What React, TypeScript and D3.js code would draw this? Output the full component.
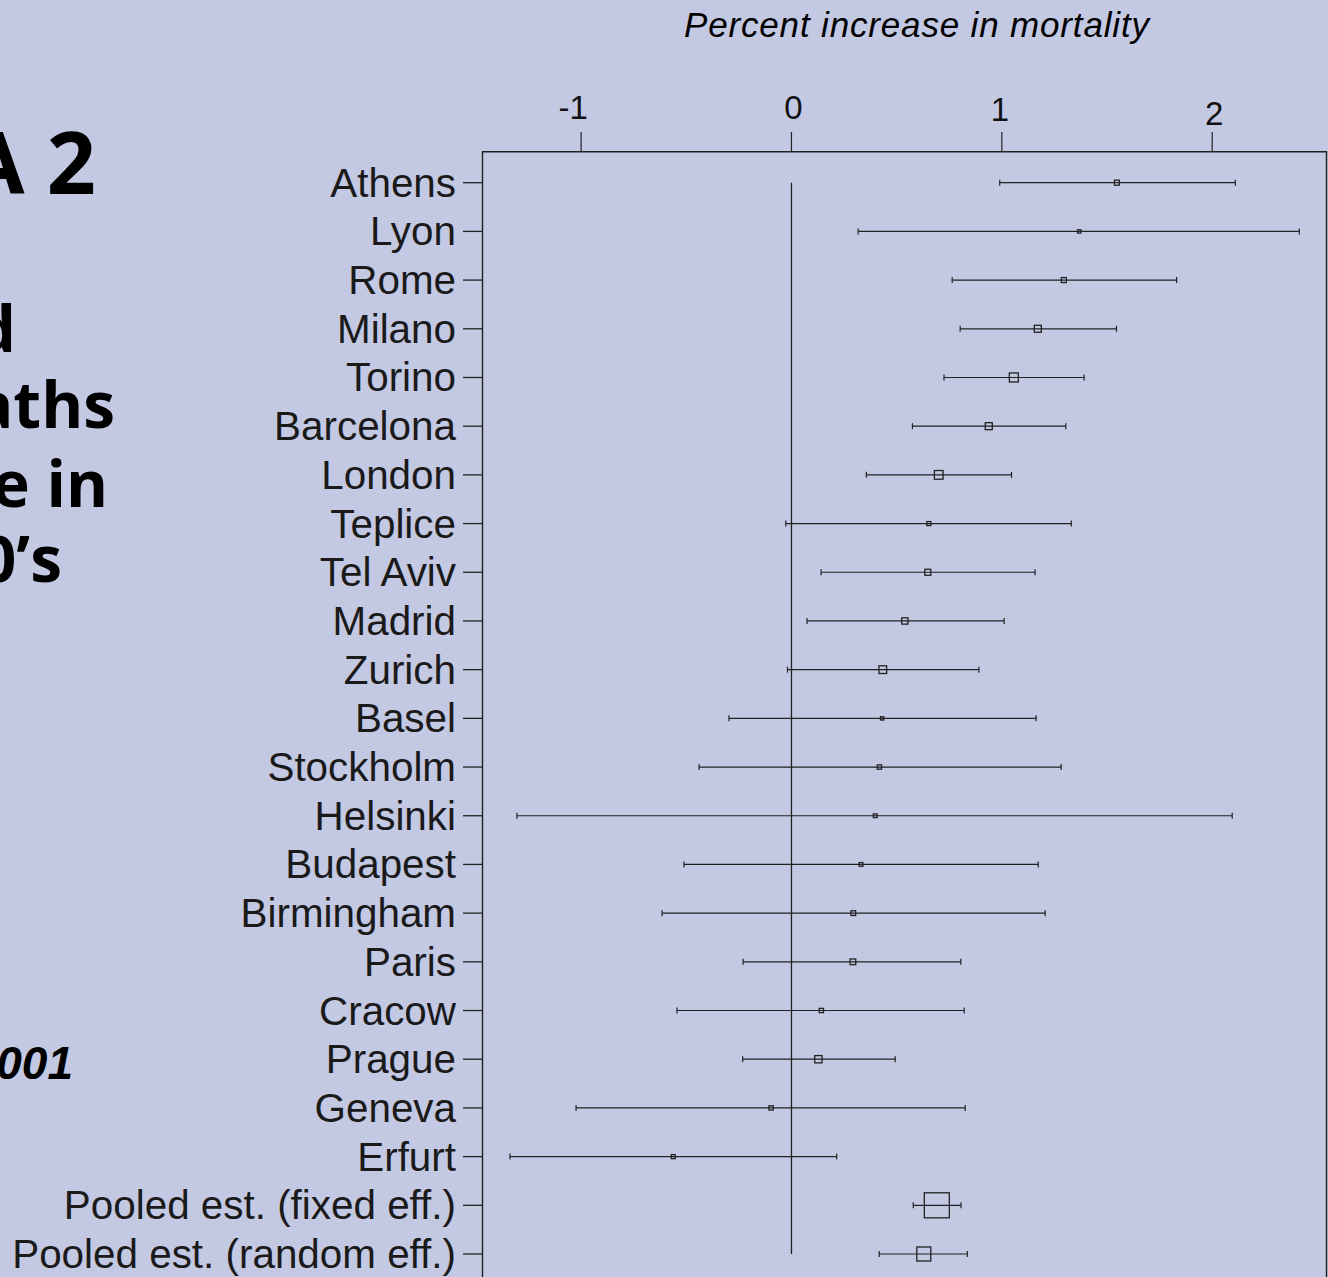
import React from "react";
import * as d3 from "d3";

const cities = [
  "Athens", "Lyon", "Rome", "Milano", "Torino", "Barcelona", "London", "Teplice",
  "Tel Aviv", "Madrid", "Zurich", "Basel", "Stockholm", "Helsinki", "Budapest",
  "Birmingham", "Paris", "Cracow", "Prague", "Geneva", "Erfurt",
  "Pooled est. (fixed eff.)", "Pooled est. (random eff.)",
];
const estimate = [
  1.547, 1.368, 1.295, 1.171, 1.057, 0.938, 0.700, 0.653, 0.648, 0.539, 0.434,
  0.431, 0.418, 0.398, 0.331, 0.294, 0.292, 0.142, 0.128, -0.097, -0.562,
  0.691, 0.629,
];
const lower = [
  0.990, 0.317, 0.764, 0.802, 0.725, 0.575, 0.356, -0.027, 0.141, 0.074, -0.019,
  -0.297, -0.439, -1.305, -0.511, -0.615, -0.230, -0.544, -0.232, -1.024, -1.338,
  0.579, 0.417,
];
const upper = [
  2.110, 2.414, 1.831, 1.545, 1.391, 1.304, 1.046, 1.330, 1.158, 1.011, 0.891,
  1.163, 1.282, 2.095, 1.173, 1.206, 0.805, 0.821, 0.493, 0.826, 0.215,
  0.806, 0.836,
];
const weight = [
  5, 3.3, 5, 7, 9, 7, 8.7, 4, 6, 6.3, 7.7, 3.3, 4.3, 3.7, 3.7, 4.7, 5.7, 4.3, 7.3,
  4.3, 4, 25, 14,
];
const xTicks = [-1, 0, 1, 2];
const xTickLabels = ["-1", "0", "1", "2"];
const axisTitle = "Percent increase in mortality";
const sideTexts = ["A 2", "d", "aths", "e in", "0\u2019s"];
const sideNote = "001";

const W = 1328;
const H = 1277;
const BG = "#c3c8e3";
const INK = "#222";

export default function App() {
  const x = d3.scaleLinear().domain([-1, 2]).range([581.1, 1212.2]);
  const y = d3.scalePoint<string>().domain(cities).range([182.7, 1254]);
  const size = d3.scaleLinear().domain([0, 25]).range([0, 25]);

  const frameL = 482.5;
  const frameT = 151.7;
  const frameR = 1326.5;
  const frameB = 1300;

  const tickLabelBase = [119, 119, 121, 125];
  const tickLabelDx = [-8, 2, -2, 2];
  const sideX = [96, 16, 115, 108, 62];
  const sideY = [194, 352, 428, 507, 582];

  const y0 = y(cities[0]) as number;
  const yN = y(cities[cities.length - 1]) as number;

  return (
    <svg
      width={W}
      height={H}
      style={{ position: "absolute", left: 0, top: 0, display: "block" }}
      fontFamily="'Liberation Sans', Arial, sans-serif"
    >
      <rect x={0} y={0} width={W} height={H} fill={BG} />

      {/* left cropped headline */}
      {sideTexts.map((t, i) => (
        <text
          key={t}
          x={sideX[i]}
          y={sideY[i]}
          textAnchor="end"
          fontFamily="'Open Sans', 'DejaVu Sans', sans-serif"
          fontWeight={700}
          fontSize={i === 0 ? 86 : 64}
          fill="#000"
        >
          {t}
        </text>
      ))}
      <text
        x={73}
        y={1079}
        textAnchor="end"
        fontFamily="'Liberation Sans', Arial, sans-serif"
        fontWeight={700}
        fontStyle="italic"
        fontSize={46}
        fill="#000"
      >
        {sideNote}
      </text>

      {/* axis title */}
      <text
        x={684}
        y={37}
        fontSize={35}
        fontStyle="italic"
        fill="#000"
        textLength={465}
        lengthAdjust="spacing"
      >
        {axisTitle}
      </text>

      {/* frame */}
      <path
        d={`M${frameL},${frameB}V${frameT}H${frameR}V${frameB}`}
        fill="none"
        stroke={INK}
        strokeWidth={1.4}
      />

      {/* top axis ticks */}
      {xTicks.map((t, i) => (
        <g key={t}>
          <line x1={x(t)} x2={x(t)} y1={132} y2={frameT} stroke={INK} strokeWidth={1.2} />
          <text
            x={x(t) + tickLabelDx[i]}
            y={tickLabelBase[i]}
            textAnchor="middle"
            fontSize={33}
            fill="#111"
          >
            {xTickLabels[i]}
          </text>
        </g>
      ))}

      {/* zero reference line */}
      <line x1={x(0)} x2={x(0)} y1={y0} y2={yN} stroke={INK} strokeWidth={1.3} />

      {/* rows */}
      {cities.map((c, i) => {
        const yy = y(c) as number;
        const s = size(weight[i]);
        return (
          <g key={c}>
            <line x1={463} x2={frameL} y1={yy} y2={yy} stroke={INK} strokeWidth={1.3} />
            <text
              x={456}
              y={yy + 14}
              textAnchor="end"
              fontSize={40.4}
              fill="#1a1a1a"
            >
              {c}
            </text>
            <line x1={x(lower[i])} x2={x(upper[i])} y1={yy} y2={yy} stroke={INK} strokeWidth={1.2} />
            <line x1={x(lower[i])} x2={x(lower[i])} y1={yy - 3} y2={yy + 3} stroke={INK} strokeWidth={1.2} />
            <line x1={x(upper[i])} x2={x(upper[i])} y1={yy - 3} y2={yy + 3} stroke={INK} strokeWidth={1.2} />
            <rect
              x={x(estimate[i]) - s / 2}
              y={yy - s / 2}
              width={s}
              height={s}
              fill="none"
              stroke={INK}
              strokeWidth={1.3}
            />
          </g>
        );
      })}
    </svg>
  );
}
